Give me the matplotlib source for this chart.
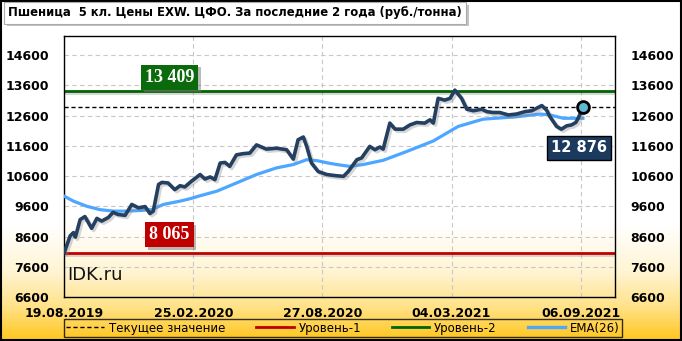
import numpy as np
import matplotlib
matplotlib.use("Agg")
import matplotlib.pyplot as plt
import matplotlib.patheffects as pe
from matplotlib.colors import LinearSegmentedColormap

# --- data ---
title = "Пшеница  5 кл. Цены EXW. ЦФО. За последние 2 года (руб./тонна)"
tick_dates = ["19.08.2019", "25.02.2020", "27.08.2020", "04.03.2021", "06.09.2021"]
tick_idx = [0, 27, 54, 81, 108]

price_idx = [0, 1.2, 1.9, 2.3, 3.3, 4.3, 5.7, 6.8, 7.8, 9.2, 10.2, 11.2, 12.7, 14.1,
             15.5, 16.9, 17.9, 18.6, 19.7, 20.4, 21.7, 23.1, 24.2, 25.2, 26.6, 28.4,
             29.4, 30.5, 31.5, 32.6, 33.6, 34.6, 36.0, 37.4, 38.8, 40.2, 42.3, 44.4,
             46.5, 47.9, 48.9, 50.0, 50.7, 51.7, 53.1, 54.9, 56.9, 58.4, 59.4, 61.2,
             62.2, 63.9, 65.0, 66.0, 66.7, 68.1, 69.2, 70.9, 72.3, 73.7, 75.4, 76.5,
             77.2, 78.2, 79.6, 80.7, 81.7, 83.1, 84.2, 85.6, 87.3, 88.4, 89.7, 91.1,
             92.9, 94.6, 96.4, 97.8, 98.8, 99.9, 100.9, 101.6, 103.0, 104.0, 105.1,
             106.1, 107.0, 107.5, 108.5]
price = [8080, 8620, 8730, 8580, 9160, 9260, 8870, 9200, 9110, 9230, 9400, 9330, 9300, 9660,
         9550, 9590, 9360, 9440, 10320, 10390, 10370, 10150, 10280, 10240, 10430, 10650,
         10500, 10570, 10480, 11030, 11050, 10920, 11300, 11340, 11360, 11630, 11490, 11520,
         11470, 11160, 11800, 11890, 11580, 11030, 10750, 10650, 10610, 10590, 10750, 11140,
         11200, 11580, 11470, 11560, 11490, 12350, 12150, 12150, 12290, 12370, 12350, 12460,
         12350, 13170, 13110, 13170, 13440, 13170, 12810, 12760, 12810, 12730, 12700, 12700,
         12620, 12650, 12730, 12760, 12840, 12930, 12780, 12560, 12240, 12150, 12260,
         12290, 12370, 12510, 12876]

ema_idx = [0, 1.9, 4.7, 7.4, 10.2, 13.0, 15.8, 18.3, 20.7, 24.2, 26.3, 28.0, 31.9, 36.0,
           40.2, 44.4, 47.9, 50.7, 52.8, 55.2, 57.0, 59.7, 62.5, 66.7, 71.6, 77.2, 80.0,
           82.4, 87.6, 94.6, 99.5, 101.6, 104.4, 108.5]
ema = [9930, 9770, 9600, 9490, 9440, 9440, 9460, 9490, 9660, 9770, 9850, 9930, 10100, 10370,
       10650, 10870, 10980, 11140, 11110, 11030, 10980, 10920, 10980, 11120, 11410, 11760, 12020,
       12240, 12480, 12560, 12650, 12620, 12510, 12510]

current = 12876
level1 = 8065
level2 = 13409

# --- figure ---
fig = plt.figure(figsize=(6.82, 3.41), dpi=100)

# background gradient (white on top, gold at the bottom)
bg = fig.add_axes([0, 0, 1, 1], zorder=-10)
grad = np.linspace(0, 1, 341).reshape(-1, 1)
cmap = LinearSegmentedColormap.from_list(
    "bg", [(0, "#ffffff"), (0.66, "#ffffff"), (0.8, "#fff4d2"), (0.9, "#ffe28a"),
           (1, "#ffc61e")])
bg.imshow(grad, aspect="auto", cmap=cmap, extent=[0, 1, 0, 1], origin="upper")
bg.set_xlim(0, 1)
bg.set_ylim(0, 1)
bg.axis("off")
bg.add_patch(plt.Rectangle((0.001, 0.002), 0.997, 0.995, fill=False, ec="black", lw=1.5,
                           transform=bg.transAxes))

ax = fig.add_axes([0.0944, 0.129, 0.8073, 0.7654])
ax.set_facecolor("none")
ax.set_xlim(0, 115.2)
ax.set_ylim(6600, 15230)

yt = np.arange(6600, 14601, 1000)
ax.set_yticks(yt)
ax.set_yticklabels([str(v) for v in yt])
ax.set_xticks(tick_idx)
ax.set_xticklabels(tick_dates)
ax.tick_params(axis="y", length=0, labelleft=True, labelright=True, pad=11,
               labelsize=9)
ax.tick_params(axis="x", length=0, pad=7, labelsize=9)
for lab in ax.get_xticklabels() + ax.get_yticklabels():
    lab.set_fontweight("bold")
for t in ax.yaxis.get_major_ticks():
    t.label2.set_fontweight("bold")

ax.grid(True, color="#c8c8c8", linestyle=(0, (4, 3)), linewidth=0.8)
for s in ax.spines.values():
    s.set_linewidth(1.0)
    s.set_color("black")

shadow = [pe.SimpleLineShadow(offset=(1.5, -1.5), shadow_color="#888888", alpha=0.35),
          pe.Normal()]

ax.axhline(current, color="black", linestyle=(0, (3, 2)), linewidth=1.0, zorder=2)
ax.axhline(level1, color="#c00000", linewidth=2.0, zorder=2, path_effects=shadow)
ax.axhline(level2, color="#006400", linewidth=2.0, zorder=2, path_effects=shadow)
ax.plot(ema_idx, ema, color="#4da6ff", linewidth=2.3, zorder=3)
ax.plot(price_idx, price, color="#243f60", linewidth=2.6, zorder=4,
        solid_joinstyle="round", path_effects=shadow)
ax.plot(price_idx[-1], price[-1], "o", ms=8.5, mfc="#5fb8d6", mec="black", mew=2.0, zorder=5)

box_shadow = [pe.SimplePatchShadow(offset=(2, -2), shadow_rgbFace="#777777", alpha=0.5),
              pe.Normal()]
t1 = ax.text(22, 13870, "13 409", color="white", fontsize=13, fontweight="bold",
             family="Liberation Serif", ha="center", va="center", zorder=6,
             bbox=dict(boxstyle="square,pad=0.22", fc="#0b6a0b", ec="none"))
t2 = ax.text(22, 8670, "8 065", color="white", fontsize=13, fontweight="bold",
             family="Liberation Serif", ha="center", va="center", zorder=6,
             bbox=dict(boxstyle="square,pad=0.22", fc="#c00000", ec="none"))
t3 = ax.text(107.7, 11530, "12 876", color="white", fontsize=10.5, fontweight="bold",
             ha="center", va="center", zorder=6,
             bbox=dict(boxstyle="square,pad=0.3", fc="#1c3a5e", ec="black", lw=1))
for t in (t1, t2):
    t.get_bbox_patch().set_path_effects(box_shadow)

ax.text(0.006, 0.085, "IDK.ru", transform=ax.transAxes, fontsize=13, color="#111111",
        ha="left", va="center", zorder=6)

# title box
tt = fig.text(0.012, 0.962, title, fontsize=8.4, fontweight="bold",
              ha="left", va="center",
              bbox=dict(boxstyle="square,pad=0.35", fc="white", ec="#aaaaaa", lw=0.8))
tt.get_bbox_patch().set_path_effects(
    [pe.SimplePatchShadow(offset=(2, -2), shadow_rgbFace="#888888", alpha=0.5), pe.Normal()])

# legend
handles = [
    plt.Line2D([], [], color="black", linestyle=(0, (3, 2)), linewidth=1.0),
    plt.Line2D([], [], color="#c00000", linewidth=2.0),
    plt.Line2D([], [], color="#006400", linewidth=2.0),
    plt.Line2D([], [], color="#4da6ff", linewidth=2.4),
]
labels = ["Текущее значение", "Уровень-1", "Уровень-2", "EMA(26)"]
leg = fig.legend(handles, labels, loc="center", ncol=4, bbox_to_anchor=(0.503, 0.038),
                 frameon=True, fancybox=False, shadow=False, fontsize=8.5,
                 handlelength=3.2, handletextpad=0.4, columnspacing=2.6,
                 borderpad=0.2)
leg.get_frame().set_edgecolor("black")
leg.get_frame().set_facecolor("none")
leg.get_frame().set_linewidth(1.0)

fig.savefig("out.png", dpi=100)
